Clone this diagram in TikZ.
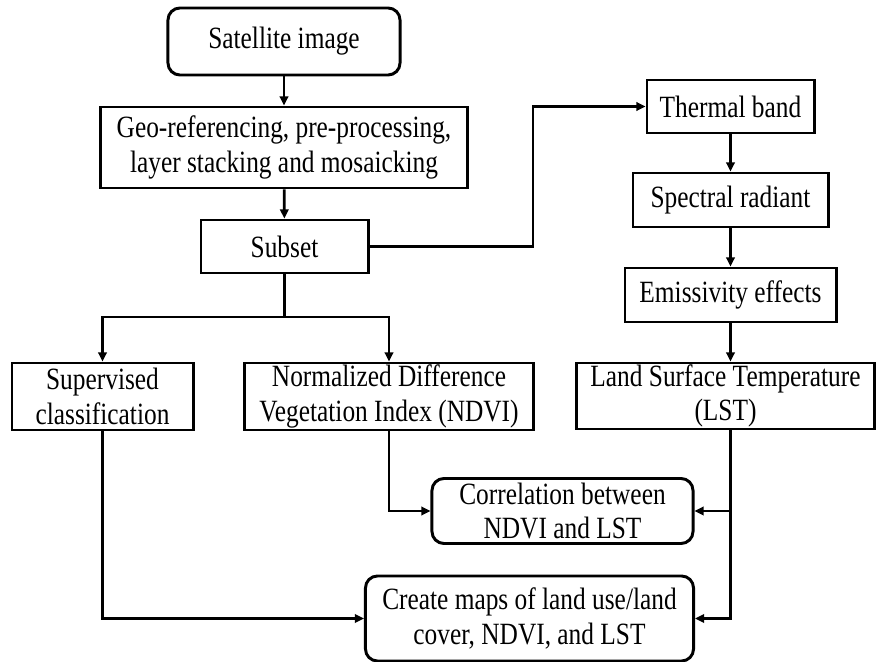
\documentclass[tikz,border=0pt]{standalone}
\usepackage{fontspec}
\setmainfont{Liberation Serif}[FakeStretch=0.82]
\usepackage{tikz}
\usetikzlibrary{arrows.meta}

\begin{document}
\begin{tikzpicture}[x=0.025cm,y=-0.025cm]
    \tikzstyle{every node}+=[inner sep=0pt, align=center, font=\fontsize{22}{24.5}\selectfont]
    \tikzstyle{box}=[draw=black, line width=2.1pt]
    \tikzstyle{rbox}=[box, rounded corners=0.3cm]
    \tikzstyle{arr}=[black, line width=1.9pt, -{Triangle[length=6.5pt,width=6pt]}]
    \useasboundingbox (0,0) rectangle (877,662);
    % left column
    \node [rbox, minimum width=5.8cm, minimum height=1.675cm] (sat) at (284,41.5) {Satellite image};
    \node [box, minimum width=9.15cm, minimum height=2.025cm] (geo) at (284,147.5) {Geo-referencing, pre-processing,\\layer stacking and mosaicking};
    \node [box, minimum width=4.175cm, minimum height=1.325cm] (subset) at (284.5,246.5) {Subset};
    % thermal column
    \node [box, minimum width=4.175cm, minimum height=1.325cm] (thermal) at (730.5,106.5) {Thermal band};
    \node [box, minimum width=4.875cm, minimum height=1.35cm] (spectral) at (730.5,200) {Spectral radiant};
    \node [box, minimum width=5.275cm, minimum height=1.35cm] (emis) at (730.5,295) {Emissivity effects};
    % middle row
    \node [box, minimum width=4.525cm, minimum height=1.675cm] (sup) at (102.5,396.5) {Supervised\\classification};
    \node [box, minimum width=7.2cm, minimum height=1.675cm] (ndvi) at (389,396.5) {Normalized Difference\\Vegetation Index (NDVI)};
    \node [box, minimum width=7.425cm, minimum height=1.65cm] (lst) at (725.5,396) {Land Surface Temperature\\(LST)};
    % results
    \node [rbox, minimum width=6.525cm, minimum height=1.625cm] (corr) at (562.5,511) {Correlation between\\NDVI and LST};
    \node [rbox, minimum width=8.2cm, minimum height=2.125cm] (maps) at (529.5,618.5) {Create maps of land use/land\\cover, NDVI, and LST};
    \coordinate (split) at (284.5,317);
    \coordinate (turn) at (533,246.5);
    \draw [arr] (sat) -- (geo);
    \draw [arr] (geo) -- (subset);
    \draw [arr] (subset.east) -- (turn) |- (thermal);
    \draw [arr] (thermal) -- (spectral);
    \draw [arr] (spectral) -- (emis);
    \draw [arr] (emis) -- (lst.north -| emis);
    \draw [black, line width=1.9pt] (subset) -- (split);
    \draw [arr] (split) -| (sup);
    \draw [arr] (split) -| (ndvi);
    \draw [arr] (ndvi) |- (corr);
    \draw [arr] (lst.south -| emis) |- (maps);
    \draw [arr] (corr.east -| emis) -- (corr);
    \draw [arr] (sup) |- (maps);
\end{tikzpicture}
\end{document}
